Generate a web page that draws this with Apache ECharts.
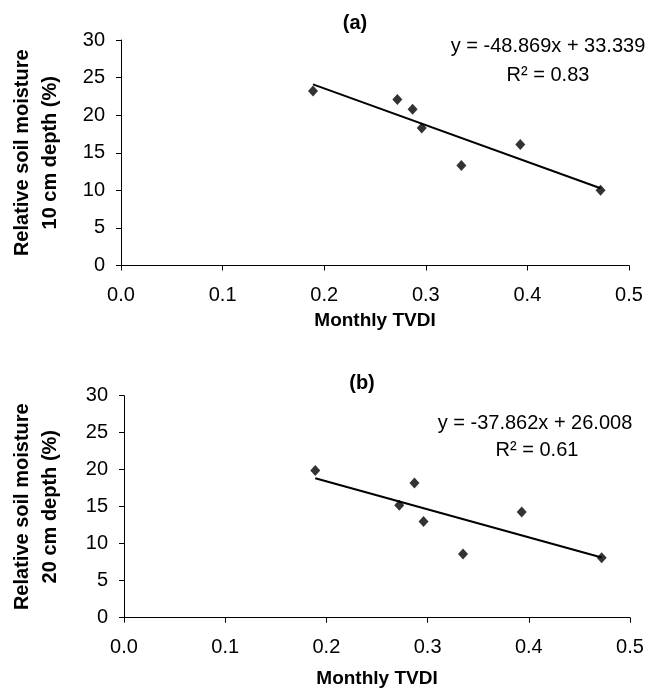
<!DOCTYPE html>
<html lang="en">
<head>
    <meta charset="UTF-8">
    <title>Relative soil moisture vs Monthly TVDI</title>
    <style>
        * { margin: 0; padding: 0; box-sizing: border-box; }
        body { background: #fff; }
        #chart { width: 651px; height: 693px; }
    </style>
</head>
<body>
    <div id="chart"></div>

    <script src="https://cdn.jsdelivr.net/npm/echarts@6/dist/echarts.min.js"></script>
    <script>
        // Monthly TVDI (same for both depths)
        const tvdi = [0.189, 0.272, 0.287, 0.296, 0.335, 0.393, 0.472];
        // Relative soil moisture (%)
        const sm10 = [23.2, 22.1, 20.8, 18.3, 13.3, 16.1, 10.0];
        const sm20 = [19.9, 15.2, 18.2, 13.0, 8.6, 14.3, 8.1];
        // linear fits, as printed on the chart
        const fit10 = { slope: -48.869, intercept: 33.339, r2: '0.83' };
        const fit20 = { slope: -37.862, intercept: 26.008, r2: '0.61' };

        const xTicks = [0, 0.1, 0.2, 0.3, 0.4, 0.5];
        const yTicks = [0, 5, 10, 15, 20, 25, 30];

        const font = 'Liberation Sans, Arial, sans-serif';
        const chart = echarts.init(document.getElementById('chart'));

        function pairs(xs, ys) {
            return xs.map((x, i) => [x, ys[i]]);
        }

        function fitLine(fit) {
            const x0 = Math.min(...tvdi), x1 = Math.max(...tvdi);
            return [[x0, fit.slope * x0 + fit.intercept], [x1, fit.slope * x1 + fit.intercept]];
        }

        function eqText(fit) {
            const b = fit.intercept.toFixed(3);
            return 'y = ' + fit.slope.toFixed(3) + 'x + ' + b;
        }

        function xAxis(idx, gap) {
            return {
                gridIndex: idx, type: 'value',
                min: xTicks[0], max: xTicks[xTicks.length - 1], interval: 0.1,
                name: 'Monthly TVDI', nameLocation: 'middle', nameGap: gap,
                nameTextStyle: { fontFamily: font, fontSize: 19, fontWeight: 'bold', color: '#000' },
                axisLine: { lineStyle: { color: '#000', width: 1 } },
                axisTick: { show: true, length: 5, lineStyle: { color: '#000' } },
                axisLabel: { fontFamily: font, fontSize: 20, color: '#000', margin: 20,
                    formatter: v => v.toFixed(1) },
                splitLine: { show: false }
            };
        }

        function yAxis(idx, depth, gap) {
            return {
                gridIndex: idx, type: 'value',
                min: yTicks[0], max: yTicks[yTicks.length - 1], interval: 5,
                name: 'Relative soil moisture\n' + depth + ' cm depth (%)',
                nameLocation: 'middle', nameGap: gap, nameRotate: 90,
                nameTextStyle: { fontFamily: font, fontSize: 20, fontWeight: 'bold', color: '#000', lineHeight: 28 },
                axisLine: { show: true, lineStyle: { color: '#000', width: 1 } },
                axisTick: { show: true, length: 5, lineStyle: { color: '#000' } },
                axisLabel: { fontFamily: font, fontSize: 20, color: '#000', margin: 16 },
                splitLine: { show: false }
            };
        }

        function label(x, y, str, bold) {
            return {
                type: 'text', x: x, y: y,
                style: { text: str, font: (bold ? 'bold ' : '') + '20px ' + font, fill: '#000',
                    align: 'center', verticalAlign: 'middle' }
            };
        }

        const option = {
            animation: false,
            grid: [
                { left: 116.5, top: 40, width: 512.5, height: 225.5 },
                { left: 121.7, top: 395.7, width: 508.3, height: 222 }
            ],
            xAxis: [xAxis(0, 46), xAxis(1, 52)],
            yAxis: [yAxis(0, 10, 57), yAxis(1, 20, 60)],
            graphic: [
                label(355, 23, '(a)', true),
                label(548, 46, eqText(fit10)),
                label(548, 75, 'R² = ' + fit10.r2),
                label(362, 383, '(b)', true),
                label(535, 423, eqText(fit20)),
                label(537, 450, 'R² = ' + fit20.r2)
            ],
            series: [
                {
                    type: 'line', xAxisIndex: 0, yAxisIndex: 0, data: fitLine(fit10),
                    symbol: 'none', lineStyle: { color: '#000', width: 2 }, z: 1
                },
                {
                    type: 'scatter', xAxisIndex: 0, yAxisIndex: 0, data: pairs(tvdi, sm10),
                    symbol: 'diamond', symbolSize: [10, 11], itemStyle: { color: '#000' }, z: 2
                },
                {
                    type: 'line', xAxisIndex: 1, yAxisIndex: 1, data: fitLine(fit20),
                    symbol: 'none', lineStyle: { color: '#000', width: 2 }, z: 1
                },
                {
                    type: 'scatter', xAxisIndex: 1, yAxisIndex: 1, data: pairs(tvdi, sm20),
                    symbol: 'diamond', symbolSize: [10, 11], itemStyle: { color: '#000' }, z: 2
                }
            ]
        };

        chart.setOption(option);
    </script>
</body>
</html>
